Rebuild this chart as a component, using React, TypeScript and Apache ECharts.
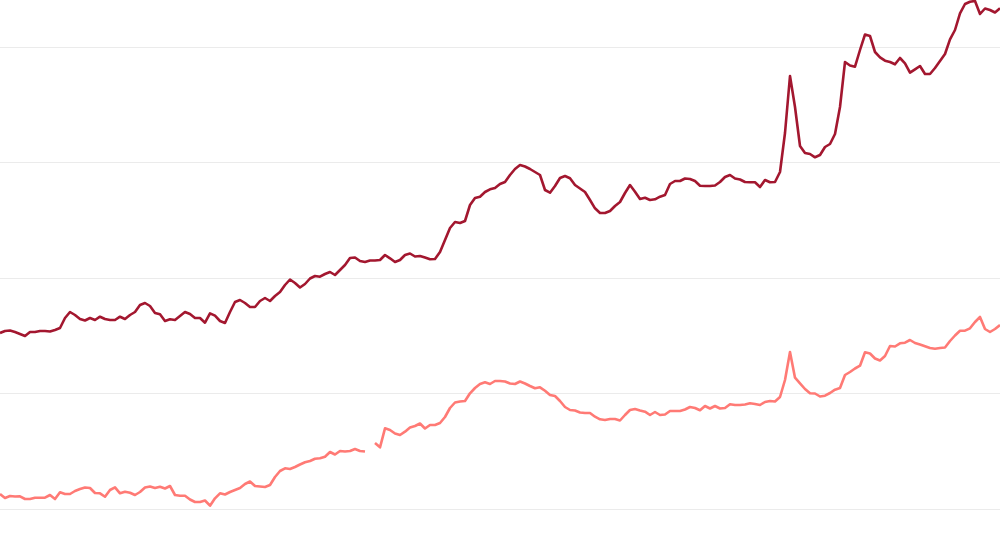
import React, { useEffect, useRef } from "react";
import * as echarts from "echarts";

// Values in chart units (gridlines every 115.5 units, 0 at the bottom gridline)
const darkSeries: number[] = [
  176, 178, 178.5, 177, 175, 173, 177, 177, 178, 178,
  177.5, 179, 181, 191, 197, 194, 190, 188.5, 191, 189,
  192.3, 190, 189, 189, 192.3, 190, 194, 197, 204, 206,
  203, 196, 194.7, 188, 189.7, 189, 193, 197, 195, 191,
  191, 186.3, 195.7, 193.3, 188, 186, 197, 207, 209, 206,
  202, 202, 208, 211, 208, 213, 217, 224, 229.5, 226,
  221.5, 225, 230.5, 233, 232.3, 235, 237, 234, 239, 244,
  251, 251.5, 248, 247, 248.5, 248.5, 249, 254, 250.7, 247,
  249, 254, 255.5, 252.5, 253, 251.5, 249.7, 250, 257, 269,
  281, 287, 286, 288, 304, 311, 312.3, 317, 319.7, 321,
  325, 327, 334, 340, 344, 342.5, 340, 337, 334, 319,
  316.3, 323, 331, 333, 330.7, 324, 320.5, 317, 309, 300.7,
  296, 296, 298, 303, 307, 316, 324, 317.3, 310, 311.3,
  309, 309.7, 312.3, 314, 325, 328, 328, 330.5, 330, 328,
  323.3, 323, 323, 323.5, 327, 332, 334, 330.5, 329.5, 327,
  326.7, 326.7, 322, 329, 326.7, 327, 337, 376, 433, 402,
  363, 356, 355, 351.7, 354, 362, 365, 375, 402, 447,
  443.5, 442.3, 459, 474.5, 473, 457, 451.7, 448.3, 447, 444.7,
  451, 445.7, 436.3, 439.7, 443, 435, 435, 441, 448, 455,
  469.7, 479, 495.7, 505, 507.3, 508, 495, 500.5, 499, 496.5,
  500.7,
];

const lightSeries: (number | null)[] = [
  15, 11, 13, 12.5, 12.7, 10, 10, 11.3, 11.3, 11.3,
  14, 10, 16.7, 15, 15, 18, 20, 21.5, 21, 16,
  15.7, 12.3, 19, 21.7, 15.7, 17.3, 16.3, 14, 17, 21.5,
  22.5, 21, 22.3, 20.5, 23, 14, 13.3, 13.3, 9.5, 7,
  7, 8.5, 3.3, 10.7, 15.7, 14.5, 17, 19, 21, 25,
  27.5, 23, 22.5, 22, 24, 32, 38, 40.7, 40, 42,
  44.5, 46.7, 48, 50.3, 50.7, 52.3, 57, 54.5, 58, 57.5,
  58, 60, 58, 57.5, null, 66, 61.7, 80.7, 79, 75.5,
  74, 77.3, 81.5, 83, 85.5, 80.5, 84, 84, 86, 92,
  101, 106.5, 107.5, 108, 115.7, 121, 125, 126.7, 125, 128,
  128, 127.5, 125.5, 125, 127.5, 125.5, 123, 120.7, 121.7, 118.3,
  114, 113, 108, 102, 99, 98.5, 96.5, 96, 96, 92.3,
  89.7, 89, 90, 90, 88.5, 94, 99, 100, 98.5, 97.3,
  94, 97, 94, 94.5, 98, 98, 98, 99.5, 102, 101,
  98.7, 103, 100.5, 103, 100.5, 101, 104.7, 104, 104, 104.5,
  105.7, 105, 104, 107, 108, 107.5, 112, 129, 157, 131.3,
  125.7, 120, 115.7, 115.5, 112.5, 113.3, 116, 119.3, 121, 134,
  137, 140.5, 143.3, 156.7, 155.5, 150.5, 148.5, 153, 163, 162.5,
  165.7, 166.3, 169, 166, 164.5, 162.7, 161, 160.3, 161, 161.5,
  168, 173.5, 178.3, 178.3, 180.7, 187, 192, 180, 177, 180,
  184,
];

const categories: string[] = darkSeries.map((_, i) => String(i + 1));

const gridLevels = { min: 0, max: 462, interval: 115.5 };

export default function App() {
  const ref = useRef<HTMLDivElement>(null);

  useEffect(() => {
    if (!ref.current) return;
    const chart = echarts.init(ref.current, null, { renderer: "svg" });
    chart.setOption({
      animation: false,
      backgroundColor: "#ffffff",
      grid: { left: 0, right: 0, top: 47, bottom: 51, containLabel: false },
      xAxis: {
        type: "category",
        data: categories,
        boundaryGap: false,
        show: false,
      },
      yAxis: {
        type: "value",
        min: gridLevels.min,
        max: gridLevels.max,
        interval: gridLevels.interval,
        axisLabel: { show: false },
        axisLine: { show: false },
        axisTick: { show: false },
        splitLine: { show: true, lineStyle: { color: "#ebebeb", width: 1 } },
      },
      series: [
        {
          name: "Dark",
          type: "line",
          data: darkSeries,
          symbol: "none",
          clip: false,
          lineStyle: { color: "#a3172f", width: 2.6, join: "round" },
          z: 3,
        },
        {
          name: "Light",
          type: "line",
          data: lightSeries,
          symbol: "none",
          clip: false,
          connectNulls: false,
          lineStyle: { color: "#ff7a75", width: 2.6, join: "round" },
          z: 2,
        },
      ],
    });
    return () => chart.dispose();
  }, []);

  return (
    <div
      ref={ref}
      style={{ position: "fixed", left: 0, top: 0, width: 1000, height: 560 }}
    />
  );
}
